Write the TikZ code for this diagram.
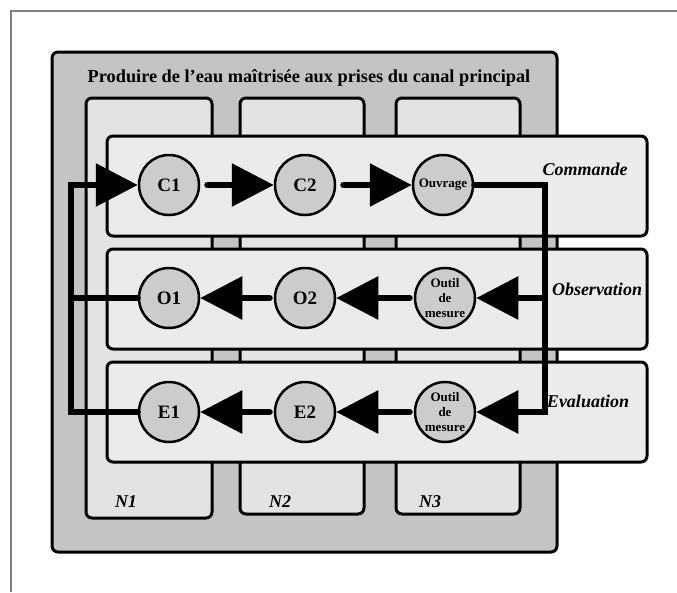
\documentclass[tikz,border=0pt]{standalone}
\usepackage{fontspec}
\setmainfont{Liberation Serif}
\usetikzlibrary{arrows.meta}

\definecolor{fondext}{gray}{0.77}
\definecolor{fondcol}{gray}{0.89}
\definecolor{fondbande}{gray}{0.92}
\definecolor{fondrond}{gray}{0.8}

\tikzset{
  cadre/.style={draw, line width=3pt, rounded corners=6pt},
  rond/.style={circle, draw, line width=2.5pt, fill=fondrond, minimum size=60pt, inner sep=0pt, font=\bfseries\fontsize{19}{19}\selectfont},
  petit/.style={font=\bfseries\fontsize{13}{15}\selectfont, align=center},
  titre/.style={font=\bfseries\itshape\fontsize{18}{18}\selectfont, anchor=base},
  fleche/.style={line width=6pt, line cap=round, -{Triangle[length=42pt,width=42pt]}},
  trait/.style={line width=6pt, line cap=round}
}

\begin{document}
\begin{tikzpicture}[x=1pt,y=-1pt]
\useasboundingbox (0,0) rectangle (677,592);
% cadre de la page
\draw[gray, line width=1.5pt] (11,592) -- (11,11) -- (677,11);
% fonction
\draw[cadre, fill=fondext] (52,52) rectangle (557,552);
\node[anchor=base, font=\bfseries\fontsize{18.3}{18}\selectfont] (fonction) at (309,82) {Produire de l'eau maîtrisée aux prises du canal principal};
% niveaux
\draw[cadre, fill=fondcol] (86,98) rectangle (212,518);
\draw[cadre, fill=fondcol] (240,98) rectangle (364,514);
\draw[cadre, fill=fondcol] (396,98) rectangle (520,514);
\node[titre] (n1) at (126,507) {N1};
\node[titre] (n2) at (280,507) {N2};
\node[titre] (n3) at (430,507) {N3};
% boucles
\draw[cadre, fill=fondbande] (107,136) rectangle (647,236);
\draw[cadre, fill=fondbande] (107,249) rectangle (647,349);
\draw[cadre, fill=fondbande] (107,362) rectangle (647,462);
\node[titre] (commande) at (585,175) {Commande};
\node[titre] (observation) at (597,295) {Observation};
\node[titre] (evaluation) at (588,407) {Evaluation};
% elements
\node[rond] (c1) at (169,185) {C1};
\node[rond] (c2) at (305,185) {C2};
\node[rond, petit] (ouvrage) at (443,185) {Ouvrage};
\node[rond] (o1) at (169,298) {O1};
\node[rond] (o2) at (305,298) {O2};
\node[rond, petit] (outilo) at (445,298) {Outil\\de\\mesure};
\node[rond] (e1) at (169,412) {E1};
\node[rond] (e2) at (305,412) {E2};
\node[rond, petit] (outile) at (445,412) {Outil\\de\\mesure};
% liaisons
\coordinate (coin) at (545,185);
\coordinate (gauche) at (71,298);
\draw[fleche, shorten <=7pt] (c1) -- (c2);
\draw[fleche, shorten <=7pt] (c2) -- (ouvrage);
\draw[fleche] (ouvrage.east) -- (coin) |- (outile.east);
\draw[fleche] (coin |- outilo.east) -- (outilo.east);
\draw[fleche, shorten <=4pt] (outilo) -- (o2);
\draw[fleche, shorten <=4pt] (o2) -- (o1);
\draw[fleche, shorten <=4pt] (outile) -- (e2);
\draw[fleche, shorten <=4pt] (e2) -- (e1);
\draw[trait] (o1.west) -- (gauche);
\draw[fleche] (e1.west) -| (gauche) |- (c1.west);
\end{tikzpicture}
\end{document}
